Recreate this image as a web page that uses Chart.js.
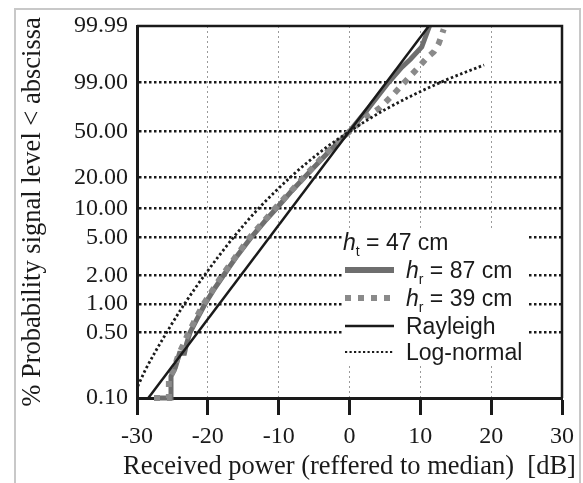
<!DOCTYPE html>
<html>
<head>
<meta charset="utf-8">
<script src="https://cdn.jsdelivr.net/npm/chart.js@4.4.0/dist/chart.umd.min.js"></script>
<style>
  html, body { margin: 0; padding: 0; background: #fff; }
</style>
</head>
<body>
<canvas id="probChart" width="583" height="483"></canvas>
<script>
// y axis: Rayleigh probability paper, tick probabilities (%) and their printed labels
var yTickProbs = [0.1, 0.5, 1, 2, 5, 10, 20, 50, 90, 99.99];
var yTickLabels = ['0.10', '0.50', '1.00', '2.00', '5.00', '10.00', '20.00', '50.00', '99.00', '99.99'];

// measured, h_r = 87 cm
var hr87X = [-27.6, -25.2, -25.2, -24.6, -24.0, -23.3, -23.0, -22.5, -21.5, -20.4, -19.2, -17.8, -15.9, -13.9, -12.0, -10.3, -8.3, -6.4, -3.0, 0, 2.6, 5.5, 7.4, 8.6, 10.2, 11.3];
var hr87P = [0.1, 0.1, 0.17, 0.21, 0.30, 0.30, 0.38, 0.5, 0.7, 1.0, 1.4, 2.0, 3.2, 5.0, 7.3, 10, 14.5, 20, 34, 50, 70, 90, 96.5, 98.3, 99.6, 99.99];

// measured, h_r = 39 cm
var hr39X = [-27.6, -25.5, -25.5, -24.8, -24.2, -23.4, -22.7, -21.7, -20.6, -18.0, -14.1, -10.5, -6.5, -3.2, 0, 2.2, 4.3, 6.0, 7.6, 9.8, 11.0, 11.9, 12.6, 13.3];
var hr39P = [0.1, 0.1, 0.16, 0.2, 0.28, 0.38, 0.5, 0.7, 1.0, 2.0, 5.0, 10, 20, 34, 50, 62, 71, 81, 89.4, 96.6, 98.6, 99.24, 99.75, 99.98];

// reference distributions
var rayleighX = [-28.4, 11.2];
var rayleighP = [0.1, 99.99];
var lognormX = [-29.9, -28.8, -25.8, -23.3, -20.5, -16.4, -12.8, -8.4, -3.9, 0, 5.2, 12.8, 19.0];
var lognormP = [0.133, 0.2, 0.5, 1, 2, 5, 10, 20, 35, 50, 70, 90, 97.1];

var xTitle = 'Received power (reffered to median)  [dB]';
var yTitle = '% Probability signal level < abscissa';

// probability (%) -> position on Rayleigh paper
function probToAxis(p) {
    return 10 * Math.log10(-Math.log(1 - p / 100));
}

function toPoints(xs, ps) {
    return xs.map(function (x, i) { return { x: x, y: probToAxis(ps[i]) }; });
}

var serif = '"Liberation Serif", "Times New Roman", serif';
var sans = '"Liberation Sans", Arial, sans-serif';
var ink = '#1a1a1a';

var framePlugin = {
    id: 'frame',
    beforeDraw: function (chart) {
        var ctx = chart.ctx;
        ctx.save();
        ctx.strokeStyle = '#c8c8c8';
        ctx.lineWidth = 2;
        ctx.strokeRect(15, 9, 565, 490);
        ctx.restore();
    },
    afterDatasetsDraw: function (chart) {
        var a = chart.chartArea, ctx = chart.ctx;
        ctx.save();
        ctx.strokeStyle = ink;
        ctx.lineWidth = 2.5;
        ctx.beginPath();
        ctx.moveTo(a.left, a.top);
        ctx.lineTo(a.right, a.top);
        ctx.lineTo(a.right, a.bottom);
        ctx.stroke();

        // axis titles (drawn here so they are not squeezed to the axis length)
        ctx.fillStyle = ink;
        ctx.font = '26.5px ' + serif;
        ctx.textAlign = 'center';
        ctx.textBaseline = 'middle';
        ctx.fillText(xTitle, (a.left + a.right) / 2, 467);
        ctx.translate(33, (a.top + a.bottom) / 2);
        ctx.rotate(-Math.PI / 2);
        ctx.fillText(yTitle, 0, 0);
        ctx.restore();
    }
};

function drawH(ctx, x, y, sub, rest) {
    ctx.font = 'italic 23px ' + sans;
    ctx.fillText('h', x, y);
    x += ctx.measureText('h').width;
    ctx.font = '14px ' + sans;
    ctx.fillText(sub, x, y + 6);
    x += ctx.measureText(sub).width;
    ctx.font = '23px ' + sans;
    ctx.fillText(rest, x, y);
}

var legendPlugin = {
    id: 'legendBox',
    afterDraw: function (chart) {
        var ctx = chart.ctx;
        ctx.save();
        ctx.fillStyle = '#fff';
        ctx.fillRect(342, 229, 186, 134);
        ctx.fillStyle = ink;
        ctx.textBaseline = 'alphabetic';
        drawH(ctx, 343, 250, 't', ' = 47 cm');

        var rows = [
            { y: 270, color: '#6e6e6e', width: 6, dash: [], label: null, sub: 'r', rest: ' = 87 cm' },
            { y: 298, color: '#8a8a8a', width: 6, dash: [6, 7], label: null, sub: 'r', rest: ' = 39 cm' },
            { y: 326, color: ink, width: 2.5, dash: [], label: 'Rayleigh' },
            { y: 352, color: ink, width: 2.2, dash: [2.2, 2.3], label: 'Log-normal' }
        ];
        rows.forEach(function (r) {
            ctx.strokeStyle = r.color;
            ctx.lineWidth = r.width;
            ctx.setLineDash(r.dash);
            ctx.beginPath();
            ctx.moveTo(345, r.y);
            ctx.lineTo(394, r.y);
            ctx.stroke();
            ctx.setLineDash([]);
            ctx.fillStyle = ink;
            if (r.label) {
                ctx.font = '23px ' + sans;
                ctx.fillText(r.label, 406, r.y + 8);
            } else {
                drawH(ctx, 406, r.y + 8, r.sub, r.rest);
            }
        });
        ctx.restore();
    }
};

new Chart(document.getElementById('probChart').getContext('2d'), {
    type: 'line',
    data: {
        datasets: [{
            label: 'Rayleigh',
            data: toPoints(rayleighX, rayleighP),
            borderColor: ink,
            borderWidth: 2.5,
            pointRadius: 0,
            clip: false
        }, {
            label: 'Log-normal',
            data: toPoints(lognormX, lognormP),
            borderColor: ink,
            borderWidth: 2.8,
            borderDash: [2.5, 2.5],
            cubicInterpolationMode: 'monotone',
            pointRadius: 0,
            clip: false
        }, {
            label: 'h_r = 39 cm',
            data: toPoints(hr39X, hr39P),
            borderColor: '#8a8a8a',
            borderWidth: 6,
            borderDash: [6, 7],
            pointRadius: 0,
            clip: false
        }, {
            label: 'h_r = 87 cm',
            data: toPoints(hr87X, hr87P),
            borderColor: '#6e6e6e',
            borderWidth: 5,
            pointRadius: 0,
            clip: false
        }]
    },
    options: {
        responsive: false,
        animation: false,
        layout: { padding: { left: 0, top: 26, right: 21, bottom: 0 } },
        plugins: { legend: { display: false }, tooltip: { enabled: false } },
        scales: {
            x: {
                type: 'linear',
                min: -30,
                max: 30,
                ticks: { stepSize: 10, color: ink, padding: 7, font: { family: serif, size: 24 } },
                grid: {
                    color: function (c) { return (c.tick && Math.abs(c.tick.value) === 30) ? 'rgba(0,0,0,0)' : '#9a9a9a'; },
                    lineWidth: 1,
                    tickColor: ink,
                    tickWidth: 3,
                    tickLength: 17,
                    tickBorderDash: []
                },
                border: { color: ink, width: 3, dash: [2, 3] },
                title: { display: false, text: xTitle },
                afterFit: function (s) { s.height = 85; }
            },
            y: {
                type: 'linear',
                min: probToAxis(yTickProbs[0]),
                max: probToAxis(yTickProbs[yTickProbs.length - 1]),
                afterBuildTicks: function (s) {
                    s.ticks = yTickProbs.map(function (p) { return { value: probToAxis(p) }; });
                },
                ticks: {
                    autoSkip: false,
                    color: ink,
                    padding: 9,
                    font: { family: serif, size: 24 },
                    callback: function (v, i) { return yTickLabels[i]; }
                },
                grid: {
                    color: function (c) {
                        return (c.index === 0 || c.index === yTickProbs.length - 1) ? 'rgba(0,0,0,0)' : ink;
                    },
                    lineWidth: 2.5,
                    drawTicks: false
                },
                border: { color: ink, width: 3, dash: [2.5, 2.5] },
                title: { display: false, text: yTitle },
                afterFit: function (s) { s.width = 137; }
            }
        }
    },
    plugins: [framePlugin, legendPlugin]
});
</script>
</body>
</html>
